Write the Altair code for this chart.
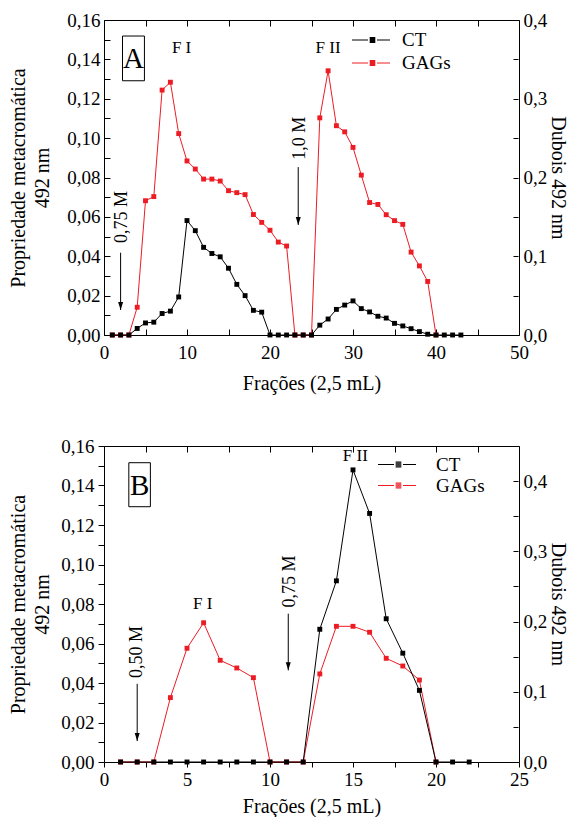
import altair as alt
import pandas as pd

FONT = "Liberation Serif"
RED = "#ed1c24"
BLACK = "#000000"

# ---------------- Panel A data ----------------
a_frac_gags = list(range(1, 41))
a_gags = [0, 0, 0, 0.0141, 0.0682, 0.0703, 0.1244, 0.1284, 0.1023, 0.0884,
          0.0843, 0.0792, 0.0792, 0.0782, 0.0733, 0.0723, 0.0713, 0.0612, 0.0572, 0.0532,
          0.0472, 0.0452, 0, 0, 0, 0.1103, 0.1342, 0.1063, 0.1032, 0.0953,
          0.0812, 0.0673, 0.0663, 0.0611, 0.0581, 0.0562, 0.0421, 0.0351, 0.0272, 0]
a_frac_ct = list(range(1, 44))
a_ct = [0, 0, 0, 0.0083, 0.0153, 0.0163, 0.0273, 0.0303, 0.0483, 0.1453,
        0.1325, 0.1113, 0.1035, 0.0993, 0.0848, 0.0643, 0.0500, 0.0313, 0.0290, 0,
        0, 0, 0, 0, 0, 0.0125, 0.0203, 0.0325, 0.0380, 0.0433,
        0.0335, 0.0293, 0.0238, 0.0215, 0.0148, 0.0115, 0.0080, 0.0043, 0.0010, 0,
        0, 0, 0]

# ---------------- Panel B data ----------------
b_frac_gags = list(range(1, 21))
b_gags = [0, 0, 0, 0.0326, 0.0576, 0.0705, 0.0515, 0.0476, 0.0427, 0,
          0, 0, 0.0446, 0.0687, 0.0687, 0.0657, 0.0525, 0.0486, 0.0415, 0]
b_frac_ct = list(range(1, 23))
b_ct = [0, 0, 0, 0, 0, 0, 0, 0, 0, 0,
        0, 0, 0.189, 0.258, 0.416, 0.354, 0.204, 0.155, 0.102, 0,
        0, 0]

series_names = ["CT", "GAGs"]

# annotations (data coordinates: fraction, left-axis units)
a_peak_text = ["F I", "F II"]
a_peak_x = [9.35, 27.0]
a_peak_y = [0.1458, 0.1460]
a_conc_text = ["0,75 M", "1,0 M"]
a_conc_x = [2.17, 23.58]
a_conc_y = [0.0599, 0.1000]
a_arrow_x = [2.0, 23.4]
a_arrow_y0 = [0.0418, 0.0853]
a_arrow_y1 = [0.0127, 0.0559]
a_letter = ["A"]
a_letter_x = [3.55]
a_letter_y = [0.1405]

b_peak_text = ["F I", "F II"]
b_peak_x = [5.95, 15.14]
b_peak_y = [0.0800, 0.1550]
b_conc_text = ["0,50 M", "0,75 M"]
b_conc_x = [1.98, 11.2]
b_conc_y = [0.0557, 0.0914]
b_arrow_x = [2.0, 11.1]
b_arrow_y0 = [0.0396, 0.0751]
b_arrow_y1 = [0.0106, 0.0464]
b_letter = ["B"]
b_letter_x = [2.145]
b_letter_y = [0.1404]

# legend glyph: line - filled square - line (units of 10 px with symbolSize 400)
LEGEND_PATH = ("M-2.05,0H-0.45M0.45,0H1.75"
               "M-0.28,-0.25H0.28M-0.28,-0.15H0.28M-0.28,-0.05H0.28"
               "M-0.28,0.05H0.28M-0.28,0.15H0.28M-0.28,0.25H0.28")
BOX_PATH = "M-0.49,-1H0.49V1H-0.49Z"
HEAD_PATH = "M-0.5,-1.6L0.5,-1.6L0,0Z"


def fmt_expr(step_major, decimals, scale):
    return ("round(datum.value*%d) %% %d == 0 ? replace(format(datum.value, '.%df'), '.', ',') : ''"
            % (scale, step_major, decimals))


def make_panel(gx, gy, cx, cy, xmax, xstep, xmajor, rmax,
               outward, width, height, legend_x, legend_y, label_offset, row_pad,
               ytitle_pad, xtitle_pad,
               peak_t, peak_x, peak_y, conc_t, conc_x, conc_y, arr_x, arr_y0, arr_y1,
               letter, letter_x, letter_y, box_size):
    xscale = alt.Scale(domain=[0, xmax], nice=False, zero=False)
    yl = alt.Scale(domain=[0, 0.16], nice=False)
    yr = alt.Scale(domain=[0, rmax], nice=False)

    nx = int(round(xmax / xstep))
    xvals = [round(i * xstep, 3) for i in range(nx + 1)]
    ylvals = [round(i * 0.01, 3) for i in range(17)]
    nr = int(round(rmax / 0.05))
    yrvals = [round(i * 0.05, 3) for i in range(nr + 1)]

    x_label_expr = ("round(datum.value*10) %% %d == 0 ? format(datum.value, 'd') : ''" % (xmajor * 10))

    x_bottom = alt.Axis(
        orient="bottom", values=xvals, labelExpr=x_label_expr,
        offset=0 if outward else -6, tickSize=5 if outward else 6,
        domain=False, grid=False, labelFlush=False, labelOverlap=False,
        labelPadding=3 if outward else 8, title="Frações (2,5 mL)", titlePadding=xtitle_pad,
    )
    y_left = alt.Axis(
        orient="left", values=ylvals, labelExpr=fmt_expr(2, 2, 100),
        offset=0 if outward else -6, tickSize=6,
        domain=False, grid=False, labelFlush=False, labelOverlap=False,
        labelPadding=4,
        title=["Propriedade metacromática", "492 nm"], titlePadding=ytitle_pad, titleLineHeight=24,
    )
    x_top = alt.Axis(
        orient="top", values=xvals, labels=False, offset=-6, tickSize=6,
        domain=False, grid=False, title=None,
    )
    y_right = alt.Axis(
        orient="right", values=yrvals, labelExpr=fmt_expr(10, 1, 100),
        offset=-6, tickSize=5, domain=False, grid=False,
        labelFlush=False, labelOverlap=False, labelPadding=5,
        title="Dubois 492 nm", titlePadding=1,
    )

    legend = alt.Legend(
        title=None, orient="none", legendX=legend_x, legendY=legend_y,
        symbolType=LEGEND_PATH, symbolSize=400, symbolStrokeWidth=1,
        symbolOpacity=1, labelFont=FONT, labelFontSize=19, labelColor=BLACK,
        labelOffset=label_offset, rowPadding=row_pad, padding=0, offset=0,
    )
    color = alt.Color("serie:N", scale=alt.Scale(domain=series_names, range=[BLACK, RED]),
                      legend=legend, sort=series_names)

    gags_df = pd.DataFrame({"f": gx, "v": gy, "serie": "GAGs"})
    ct_df = pd.DataFrame({"f": cx, "v": cy, "serie": "CT"})

    def ax(field):
        return alt.X(field, scale=xscale, axis=x_bottom)

    def ay(field):
        return alt.Y(field, scale=yl, axis=y_left)

    gags = alt.Chart(gags_df).mark_line(
        strokeWidth=1,
        point=alt.OverlayMarkDef(shape="square", size=24, filled=True, opacity=1),
    ).encode(x=ax("f:Q"), y=ay("v:Q"), color=color)
    ct = alt.Chart(ct_df).mark_line(
        strokeWidth=1,
        point=alt.OverlayMarkDef(shape="square", size=24, filled=True, opacity=1),
    ).encode(
        x=alt.X("f:Q", scale=xscale, axis=x_top),
        y=alt.Y("v:Q", scale=yr, axis=y_right),
        color=color,
    )

    peaks = alt.Chart(pd.DataFrame({"f": peak_x, "v": peak_y, "t": peak_t})).mark_text(
        font=FONT, fontSize=17, color=BLACK
    ).encode(x=ax("f:Q"), y=ay("v:Q"), text="t:N")
    conc = alt.Chart(pd.DataFrame({"f": conc_x, "v": conc_y, "t": conc_t})).mark_text(
        font=FONT, fontSize=18, color=BLACK, angle=270
    ).encode(x=ax("f:Q"), y=ay("v:Q"), text="t:N")
    arrows_df = pd.DataFrame({"f": arr_x, "v": arr_y0, "v1": arr_y1})
    arrows = alt.Chart(arrows_df).mark_rule(color=BLACK, strokeWidth=1).encode(
        x=ax("f:Q"), y=ay("v:Q"), y2="v1:Q")
    heads_df = pd.DataFrame({"f": arr_x, "v": arr_y1})
    heads = alt.Chart(heads_df).mark_point(
        shape=HEAD_PATH, size=100, filled=True, color=BLACK, opacity=1
    ).encode(x=ax("f:Q"), y=ay("v:Q"))
    letter_df = pd.DataFrame({"f": letter_x, "v": letter_y, "t": letter})
    letter_txt = alt.Chart(letter_df).mark_text(
        font=FONT, fontSize=29, color=BLACK, dy=1
    ).encode(x=ax("f:Q"), y=ay("v:Q"), text="t:N")
    box = alt.Chart(letter_df).mark_point(
        shape=BOX_PATH, size=box_size, filled=False, color=BLACK, strokeWidth=1, opacity=1
    ).encode(x=ax("f:Q"), y=ay("v:Q"))

    inner = alt.layer(gags, peaks, conc, arrows, heads, box, letter_txt)
    return alt.layer(inner, ct).resolve_scale(y="independent").resolve_axis(
        x="independent", y="independent"
    ).properties(width=width, height=height)


panel_a = make_panel(
    a_frac_gags, a_gags, a_frac_ct, a_ct, 50, 5, 10, 0.4,
    False, 415, 315, 258, 9.5, 19, 2, 14, 11,
    a_peak_text, a_peak_x, a_peak_y, a_conc_text, a_conc_x, a_conc_y,
    a_arrow_x, a_arrow_y0, a_arrow_y1, a_letter, a_letter_x, a_letter_y, 2000,
)
panel_b = make_panel(
    b_frac_gags, b_gags, b_frac_ct, b_ct, 25, 2.5, 5, 0.45,
    True, 415, 316, 284, 8, 27, -1, 8, 7,
    b_peak_text, b_peak_x, b_peak_y, b_conc_text, b_conc_x, b_conc_y,
    b_arrow_x, b_arrow_y0, b_arrow_y1, b_letter, b_letter_x, b_letter_y, 1936,
)

chart = alt.vconcat(panel_a, panel_b, spacing=42).resolve_scale(
    color="independent"
).resolve_legend(color="independent").properties(
    padding={"left": 0, "top": 2, "right": 0, "bottom": 0},
    background="white",
).configure_view(
    stroke=BLACK, strokeWidth=1
).configure_axis(
    labelFont=FONT, labelFontSize=19, labelColor=BLACK,
    titleFont=FONT, titleFontSize=20, titleFontWeight="normal", titleColor=BLACK,
    tickColor=BLACK, tickWidth=1, domainColor=BLACK,
)

chart.save("out.html", embed_options={"renderer": "svg", "actions": False})
